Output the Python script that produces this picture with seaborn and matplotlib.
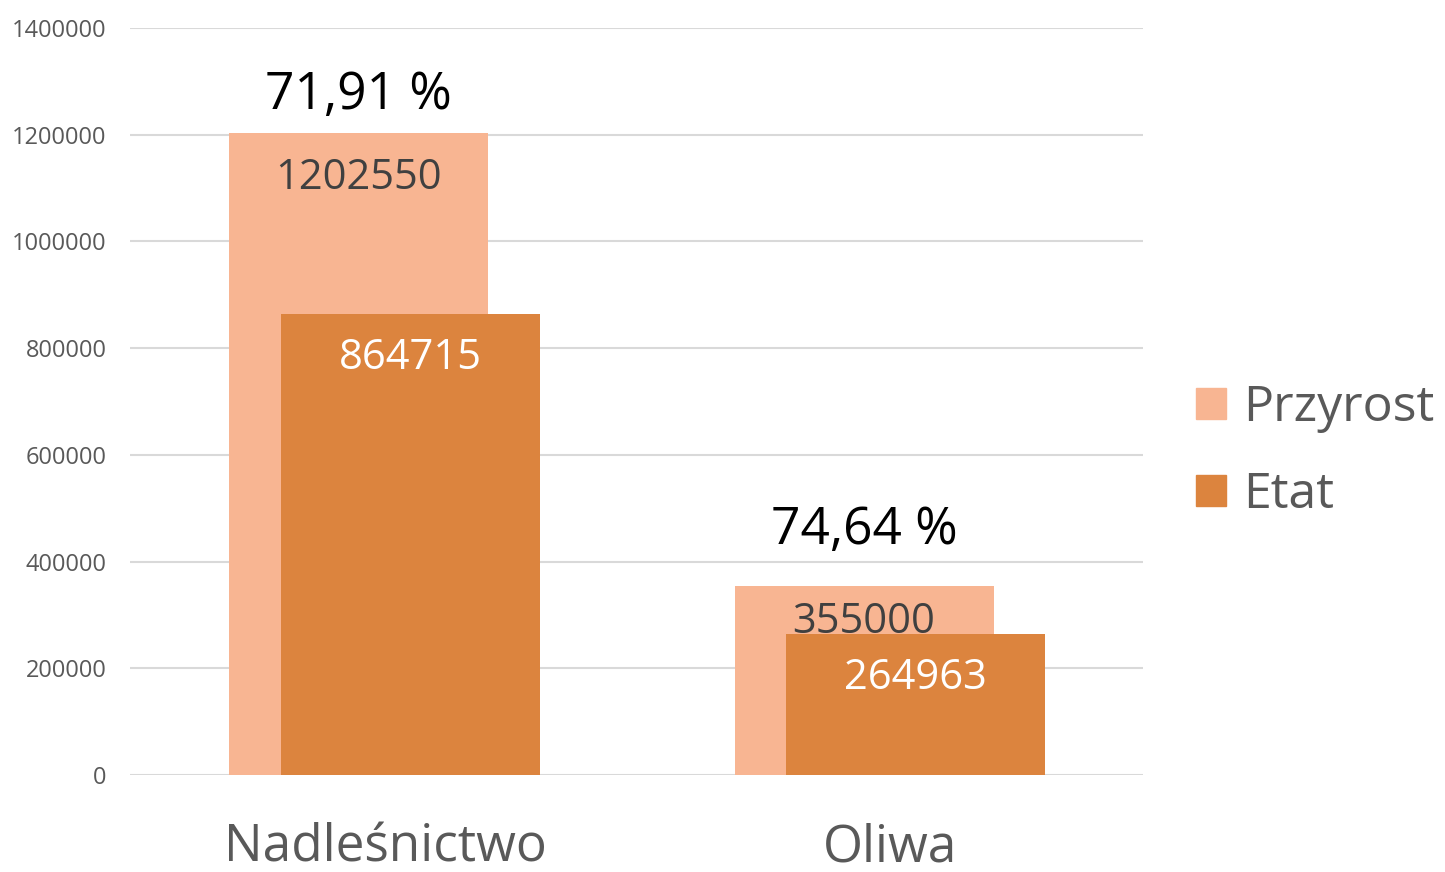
import matplotlib.pyplot as plt
import seaborn as sns
from matplotlib.patches import Patch

categories = ["Nadleśnictwo", "Oliwa"]
przyrost = [1202550, 355000]
etat = [864715, 264963]
series_names = ["Przyrost", "Etat"]
yticks = [0, 200000, 400000, 600000, 800000, 1000000, 1200000, 1400000]

c_przyrost = "#F8B592"
c_etat = "#DC843E"
gray = "#595959"

sns.set_theme(style="white")
plt.rcParams['font.family'] = ['Open Sans', 'DejaVu Sans']

fig = plt.figure(figsize=(14.45, 8.72), dpi=100)
ax = fig.add_axes([130/1445, 1 - 775/872, (1143 - 130)/1445, (775 - 28)/872])

# two overlapping bar series, shifted sideways a little
sns.barplot(x=categories, y=przyrost, color=c_przyrost, width=0.513, saturation=1,
            linewidth=0, ax=ax)
n = len(ax.patches)
sns.barplot(x=categories, y=etat, color=c_etat, width=0.513, saturation=1,
            linewidth=0, ax=ax)
shift_p, shift_e = -0.052, 0.05
for p in ax.patches[:n]:
    p.set_x(p.get_x() + shift_p)
for p in ax.patches[n:]:
    p.set_x(p.get_x() + shift_e)

ax.set_xlim(-0.505, 1.50)
ax.set_ylim(0, 1400000)
ax.set_yticks(yticks)
ax.set_yticklabels([str(t) for t in yticks])
ax.yaxis.grid(True, color="#d9d9d9", linewidth=1.5)
ax.set_axisbelow(True)
sns.despine(ax=ax, left=True, bottom=True, top=True, right=True)
ax.tick_params(axis="y", length=0, pad=17, labelsize=17, labelcolor=gray)
ax.tick_params(axis="x", length=0, pad=34, labelsize=37, labelcolor=gray)

# label offsets in points (inside bar / above bar)
p_off = [-32, -26]
e_off = [-32, -32]
pct_off = [27, 40]
for i, (p, e) in enumerate(zip(przyrost, etat)):
    ax.annotate(str(p), (i + shift_p, p), xytext=(0, p_off[i]), textcoords="offset points",
                ha="center", va="center", fontsize=30, color="#404040")
    ax.annotate(str(e), (i + shift_e, e), xytext=(0, e_off[i]), textcoords="offset points",
                ha="center", va="center", fontsize=30, color="white")
    pct = f"{e / p * 100:.2f}".replace(".", ",") + " %"
    ax.annotate(pct, (i + shift_p, p), xytext=(0, pct_off[i]), textcoords="offset points",
                ha="center", va="center", fontsize=37, color="black")

handles = [Patch(color=c_przyrost), Patch(color=c_etat)]
fig.legend(handles, series_names, loc="center left", bbox_to_anchor=(1196/1445, 1 - 452/872),
           frameon=False, fontsize=36, handlelength=0.6, handleheight=0.6,
           handletextpad=0.35, labelspacing=0.75, borderpad=0, borderaxespad=0,
           labelcolor=gray)

fig.savefig("out.png", dpi=100)
